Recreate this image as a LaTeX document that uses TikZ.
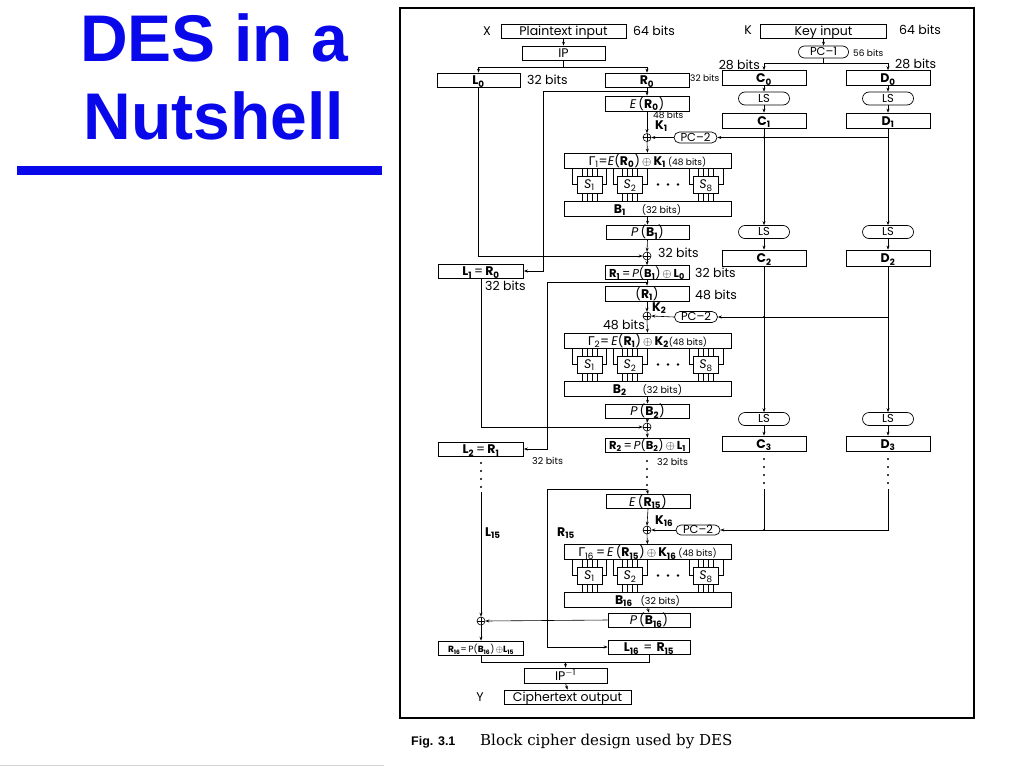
\documentclass[tikz,border=0pt]{standalone}
\usepackage{fontspec}
\usetikzlibrary{arrows.meta,shapes.misc}
\newfontfamily\df{Poppins}
\newfontfamily\tf{Liberation Sans}
\newfontfamily\cf{DejaVu Serif}
\newfontfamily\gf{DejaVu Sans}
\definecolor{tblue}{RGB}{8,8,235}
\newcommand\fA{\df\fontsize{12.5}{14}\selectfont}
\newcommand\fB{\df\fontsize{11.5}{13}\selectfont}
\newcommand\fC{\df\fontsize{11.5}{13}\selectfont}
\newcommand\fS{\df\fontsize{9}{10}\selectfont}
\newcommand\fM{\df\fontsize{9.5}{11}\selectfont}
\newcommand\Gm{{\gf\fontsize{12}{13}\selectfont Γ}}
\tikzset{
 ln/.style={line width=0.6pt},
 bx/.style={draw, line width=0.7pt, inner sep=0pt, minimum height=15pt, text height=11.8pt, text depth=2.2pt, font=\fA},
 wbx/.style={bx, minimum width=84pt},
 gbx/.style={bx, minimum width=167pt},
 caps/.style={draw, line width=0.7pt, rounded rectangle, inner sep=0pt, minimum height=13pt, minimum width=51pt, text height=7.4pt, text depth=0pt, font=\fC},
 xor/.style={circle, draw, line width=0.6pt, inner sep=0pt, minimum size=8pt,
   path picture={\draw[line width=0.5pt] (path picture bounding box.north) -- (path picture bounding box.south)
     (path picture bounding box.west) -- (path picture bounding box.east);}},
 lbl/.style={inner sep=0pt, font=\fA},
 slbl/.style={inner sep=0pt, font=\fS},
 mlbl/.style={inner sep=0pt, font=\fM},
 sbx/.style={draw, line width=0.7pt, inner sep=0pt, minimum width=25pt, minimum height=17pt, text height=10pt, text depth=1.5pt, font=\fA},
}
\newcommand\myDESsrow[2]{%
 \foreach \sx/\sl in {589.5/1,630/2,706/8}{%
   \node[sbx] (s\sl#1) at (\sx,#2) {\textit{S}\textsubscript{\sl}};
   \foreach \dx in {-7.5,-2.5,2.5,7.5}{%
     \draw[ln] ({\sx+\dx},{#2-16.5}) -- ({\sx+\dx},{#2-8.5});
     \draw[ln] ({\sx+\dx},{#2+8.5}) -- ({\sx+\dx},{#2+16.5});
   }
   \draw[ln] ({\sx-17},{#2-16.5}) -- ({\sx-17},{#2}) -- ({\sx-12.5},{#2});
   \draw[ln] ({\sx+17},{#2-16.5}) -- ({\sx+17},{#2}) -- ({\sx+12.5},{#2});
 }
 \foreach \dx in {658,668,678}{\fill ({\dx},{#2}) circle (1.4pt);}
}
\newcommand\myDESdots[3]{% x, y first, n
 \foreach \k in {1,...,#3}{\fill ({#1},{#2+(\k-1)*8}) circle (1.2pt);}
}
\begin{document}
\begin{tikzpicture}[x=1pt,y=-1pt,>={Stealth[length=4pt,width=3pt]}]
\useasboundingbox (0,0) rectangle (1024,768);
\fill[white] (0,0) rectangle (1024,768);
% title
\node[anchor=base, inner sep=0pt, font=\tf\bfseries\fontsize{66}{70}\selectfont, text=tblue] (t1) at (214,61) {DES in a};
\node[anchor=base, inner sep=0pt, font=\tf\bfseries\fontsize{66}{70}\selectfont, text=tblue] (t2) at (214,139) {Nutshell};
\fill[tblue] (17,166) rectangle (382,175);
\draw[gray!35, line width=0.5pt] (0,765) -- (384,765);
% frame and caption
\draw[line width=1.1pt] (400,8) rectangle (974,718);
\node[anchor=base west, inner sep=0pt, font=\tf\bfseries\fontsize{12.5}{14}\selectfont] (fig) at (411,745) {Fig. 3.1};
\node[anchor=base west, inner sep=0pt, font=\cf\fontsize{15}{17}\selectfont] (cap) at (480,745) {Block cipher design used by DES};
% ---------- top
\node[lbl] (X) at (487,31) {X};
\node[bx, minimum width=125pt, minimum height=14pt] (pt) at (563.5,31) {Plaintext input};
\node[lbl, anchor=west] (pt64) at (633,31) {64 bits};
\node[lbl] (K) at (748,30) {K};
\node[bx, minimum width=126pt, minimum height=14pt] (key) at (823.5,31) {Key input};
\node[lbl, anchor=west] (k64) at (899,30) {64 bits};
\node[bx, minimum width=83pt, minimum height=14pt] (ip) at (563.5,53) {IP};
\coordinate (ipj) at (563.5,67);
\node[bx, minimum width=83pt, minimum height=14pt] (L0) at (478.5,80) {\textbf{L\textsubscript{0}}};
\node[lbl, anchor=west] (L0b) at (527,80) {32 bits};
\node[wbx, minimum height=14pt] (R0) at (647,80) {\textbf{R\textsubscript{0}}};
\node[slbl, anchor=west] (R0b) at (690,78) {32 bits};
\node[caps, minimum width=50pt, minimum height=12pt] (pc1) at (823.5,52) {PC\textendash1};
\node[slbl, anchor=west] (pc1b) at (853,53) {56 bits};
\coordinate (kj) at (823.5,63);
\node[wbx] (C0) at (764,78) {\textbf{C\textsubscript{0}}};
\node[wbx] (D0) at (888,78) {\textbf{D\textsubscript{0}}};
\node[lbl, anchor=south east] (c28) at (760,70) {28 bits};
\node[lbl, anchor=south west] (d28) at (895,69) {28 bits};
\node[caps] (ls1c) at (764,98.5) {LS};
\node[caps] (ls1d) at (888,98.5) {LS};
\node[wbx] (C1) at (764,120.5) {\textbf{C\textsubscript{1}}};
\node[wbx] (D1) at (888,120.5) {\textbf{D\textsubscript{1}}};
% ---------- round 1
\node[wbx] (ER0) at (647,103.5) {\textit{E}\,(\textbf{R\textsubscript{0}})};
\coordinate (r0j) at (647,91);
\coordinate (lp1) at (543,91);
\node[slbl, anchor=west] (e48) at (653,115) {48 bits};
\node[lbl, anchor=west] (K1) at (655,126) {\textbf{K\textsubscript{1}}};
\node[xor] (xa1) at (647,137.5) {};
\node[caps, minimum width=43pt, minimum height=11pt] (pc2a) at (695.5,137.5) {PC\textendash2};
\node[gbx] (G1) at (647.5,160.5) {\Gm\textsubscript{1}=\textit{E}(\textbf{R\textsubscript{0}})\,$\oplus$\,\textbf{K\textsubscript{1}}\,{\fS(48 bits)}};
\myDESsrow{a}{184.5}
\node[gbx] (B1) at (647.5,208.5) {\textbf{B\textsubscript{1}}\hspace{16pt}{\fM(32 bits)}};
\node[bx, minimum width=83pt, minimum height=14pt] (PB1) at (647.5,232) {\textit{P}\,(\textbf{B\textsubscript{1}})};
\node[xor] (xb1) at (647,256) {};
\node[lbl, anchor=west] (xb1l) at (658,253) {32 bits};
\node[wbx, minimum height=13pt, font=\fB] (R1) at (647,272.5) {\textbf{R\textsubscript{1}}\,=\,\textit{P}(\textbf{B\textsubscript{1}})\,$\oplus$\,\textbf{L\textsubscript{0}}};
\node[lbl, anchor=west] (R1b) at (695,273) {32 bits};
\node[bx, minimum width=85pt, minimum height=14pt] (L1) at (481,271) {\textbf{L\textsubscript{1}}\,=\,\textbf{R\textsubscript{0}}};
\node[lbl, anchor=west] (L1b) at (485,286) {32 bits};
\node[caps] (ls2c) at (764,232) {LS};
\node[caps] (ls2d) at (888,232) {LS};
\node[wbx, minimum height=16pt] (C2) at (764,258) {\textbf{C\textsubscript{2}}};
\node[wbx, minimum height=16pt] (D2) at (888,258) {\textbf{D\textsubscript{2}}};
% ---------- round 2
\coordinate (r1j) at (647,282);
\coordinate (lp2) at (547,282);
\node[wbx] (ER1) at (647,293.5) {(\textbf{R\textsubscript{1}})};
\node[lbl, anchor=west] (ER1b) at (695,295) {48 bits};
\node[lbl, anchor=west] (K2) at (652,308) {\textbf{K\textsubscript{2}}};
\node[xor] (xa2) at (647,316) {};
\node[caps, minimum width=43pt, minimum height=11pt] (pc2b) at (696,317) {PC\textendash2};
\node[lbl, anchor=east] (x48) at (645,325) {48 bits};
\node[gbx] (G2) at (647.5,340.5) {\Gm\textsubscript{2}=\,\textit{E}(\textbf{R\textsubscript{1}})\,$\oplus$\,\textbf{K\textsubscript{2}}{\fS(48 bits)}};
\myDESsrow{b}{364.5}
\node[gbx] (B2) at (647.5,388.5) {\textbf{B\textsubscript{2}}\hspace{16pt}{\fM(32 bits)}};
\node[bx, minimum width=84pt, minimum height=14pt] (PB2) at (647.5,411) {\textit{P}\,(\textbf{B\textsubscript{2}})};
\node[xor] (xb2) at (647,427) {};
\node[wbx, minimum height=14pt, font=\fB] (R2) at (647.5,445) {\textbf{R\textsubscript{2}}\,=\,\textit{P}(\textbf{B\textsubscript{2}})\,$\oplus$\,\textbf{L\textsubscript{1}}};
\node[bx, minimum width=85pt, minimum height=14pt] (L2) at (481,449) {\textbf{L\textsubscript{2}}\,=\,\textbf{R\textsubscript{1}}};
\node[mlbl, anchor=west] (L2b) at (532,461) {32 bits};
\node[mlbl, anchor=west] (R2b) at (657,462) {32 bits};
\node[caps] (ls3c) at (764,419) {LS};
\node[caps] (ls3d) at (888,419) {LS};
\node[wbx] (C3) at (764,443.5) {\textbf{C\textsubscript{3}}};
\node[wbx] (D3) at (888,443.5) {\textbf{D\textsubscript{3}}};
\myDESdots{481}{463}{4}
\myDESdots{647}{461}{4}
\myDESdots{764}{459}{4}
\myDESdots{888}{459}{4}
% ---------- round 16
\coordinate (l15t) at (481,492);
\coordinate (r15j) at (647,489);
\coordinate (lp3) at (547,489);
\coordinate (c3t) at (764,489);
\coordinate (d3t) at (888,489);
\node[wbx, minimum height=13pt] (ER15) at (648,501.5) {\textit{E}\,(\textbf{R\textsubscript{15}})};
\node[lbl, anchor=west] (K16) at (655,521) {\textbf{K\textsubscript{16}}};
\node[xor] (xa3) at (647,530) {};
\node[caps, minimum width=44pt, minimum height=10pt] (pc2c) at (698,530) {PC\textendash2};
\node[lbl, anchor=west] (L15) at (485,533) {\textbf{L\textsubscript{15}}};
\node[lbl, anchor=west] (R15) at (557,533) {\textbf{R\textsubscript{15}}};
\node[gbx] (G16) at (647.5,552) {\Gm\textsubscript{16}\,=\,\textit{E}\,(\textbf{R\textsubscript{15}})\,$\oplus$\,\textbf{K\textsubscript{16}}\,{\fS(48 bits)}};
\myDESsrow{c}{575.5}
\node[gbx] (B16) at (647.5,599.5) {\textbf{B\textsubscript{16}}\hspace{8pt}{\fM(32 bits)}};
\node[bx, minimum width=82pt, minimum height=14pt] (PB16) at (649,620) {\textit{P}\,(\textbf{B\textsubscript{16}})};
\node[xor] (xb3) at (481,621) {};
\node[bx, minimum width=85pt, minimum height=14pt, font=\fS] (R16) at (481,648) {\textbf{R\textsubscript{16}}=\,P(\textbf{B\textsubscript{16}})\,$\oplus$\textbf{L\textsubscript{15}}};
\node[bx, minimum width=82pt, minimum height=14pt] (L16) at (649,647) {\textbf{L\textsubscript{16}}\,\,=\,\,\textbf{R\textsubscript{15}}};
\coordinate (jn) at (565.5,662);
\node[bx, minimum width=83pt, minimum height=15pt] (ipinv) at (565.5,675.5) {IP\textsuperscript{$-$1}};
\node[bx, minimum width=127pt, minimum height=14pt] (ct) at (567.5,697) {Ciphertext output};
\node[lbl] (Y) at (480,697) {Y};
% ---------- connectors: top
\draw[ln,->] (pt.south) -- (ip.north);
\draw[ln] (ip.south) -- (ipj);
\draw[ln,->] (ipj) -| (L0.north);
\draw[ln,->] (ipj) -| (R0.north);
\draw[ln,->] (key.south) -- (pc1.north);
\draw[ln] (pc1.south) -- (kj);
\draw[ln,->] (kj) -| (C0.north);
\draw[ln,->] (kj) -| (D0.north);
\draw[ln,->] (C0.south) -- (ls1c.north);
\draw[ln,->] (D0.south) -- (ls1d.north);
\draw[ln,->] (ls1c.south) -- (C1.north);
\draw[ln,->] (ls1d.south) -- (D1.north);
\draw[ln,->] (C1.south) -- (ls2c.north);
\draw[ln,->] (D1.south) -- (ls2d.north);
\draw[ln,->] (D1.south |- pc2a.east) -- (pc2a.east);
\fill (C1.south |- pc2a.east) circle (1.2pt);
\draw[ln,->] (ls2c.south) -- (C2.north);
\draw[ln,->] (ls2d.south) -- (D2.north);
% round 1
\draw[ln,->] (R0.south) -- (ER0.north);
\draw[ln,->] (r0j) -- (lp1) |- (L1.east);
\draw[ln,->] (ER0.south) -- (xa1.north);
\draw[ln,->] (pc2a.west) -- (xa1.east);
\draw[ln,->] (xa1.south) -- (G1.north);
\draw[ln,->] (B1.south) -- (PB1.north);
\draw[ln,->] (PB1.south) -- (xb1.north);
\draw[ln,->] (xb1.south) -- (R1.north);
\draw[ln,->] (L0.south) |- (xb1.west);
% round 2
\draw[ln,->] (R1.south) -- (ER1.north);
\draw[ln,->] (r1j) -- (lp2) |- (L2.east);
\draw[ln,->] (ER1.south) -- (xa2.north);
\draw[ln,->] (pc2b.west) -- (xa2.east);
\draw[ln,->] (xa2.south) -- (G2.north);
\draw[ln,->] (C2.south) -- (ls3c.north);
\draw[ln,->] (D2.south) -- (ls3d.north);
\draw[ln,->] (D2.south |- pc2b.east) -- (pc2b.east);
\fill (C2.south |- pc2b.east) circle (1.2pt);
\draw[ln,->] (ls3c.south) -- (C3.north);
\draw[ln,->] (ls3d.south) -- (D3.north);
\draw[ln,->] (B2.south) -- (PB2.north);
\draw[ln,->] (PB2.south) -- (xb2.north);
\draw[ln,->] (xb2.south) -- (R2.north);
\draw[ln,->] (L1.south) |- (xb2.west);
% round 16
\draw[ln,->] (r15j) -- (ER15.north);
\draw[ln,->] (r15j) -- (lp3) |- (L16.west);
\draw[ln,->] (ER15.south) -- (xa3.north);
\draw[ln,->] (pc2c.west) -- (xa3.east);
\draw[ln,->] (xa3.south) -- (G16.north);
\draw[ln] (c3t) -- (c3t |- pc2c.east);
\fill (c3t |- pc2c.east) circle (1.2pt);
\draw[ln,->] (d3t) |- (pc2c.east);
\draw[ln,->] (B16.south) -- (PB16.north);
\draw[ln,->] (PB16.west) -- (xb3.east);
\draw[ln,->] (l15t) -- (xb3.north);
\draw[ln,->] (xb3.south) -- (R16.north);
\draw[ln] (R16.south) |- (jn);
\draw[ln] (L16.south) |- (jn);
\draw[ln,->] (jn) -- (ipinv.north);
\draw[ln,->] (ipinv.south) -- (ct.north);
\end{tikzpicture}
\end{document}
